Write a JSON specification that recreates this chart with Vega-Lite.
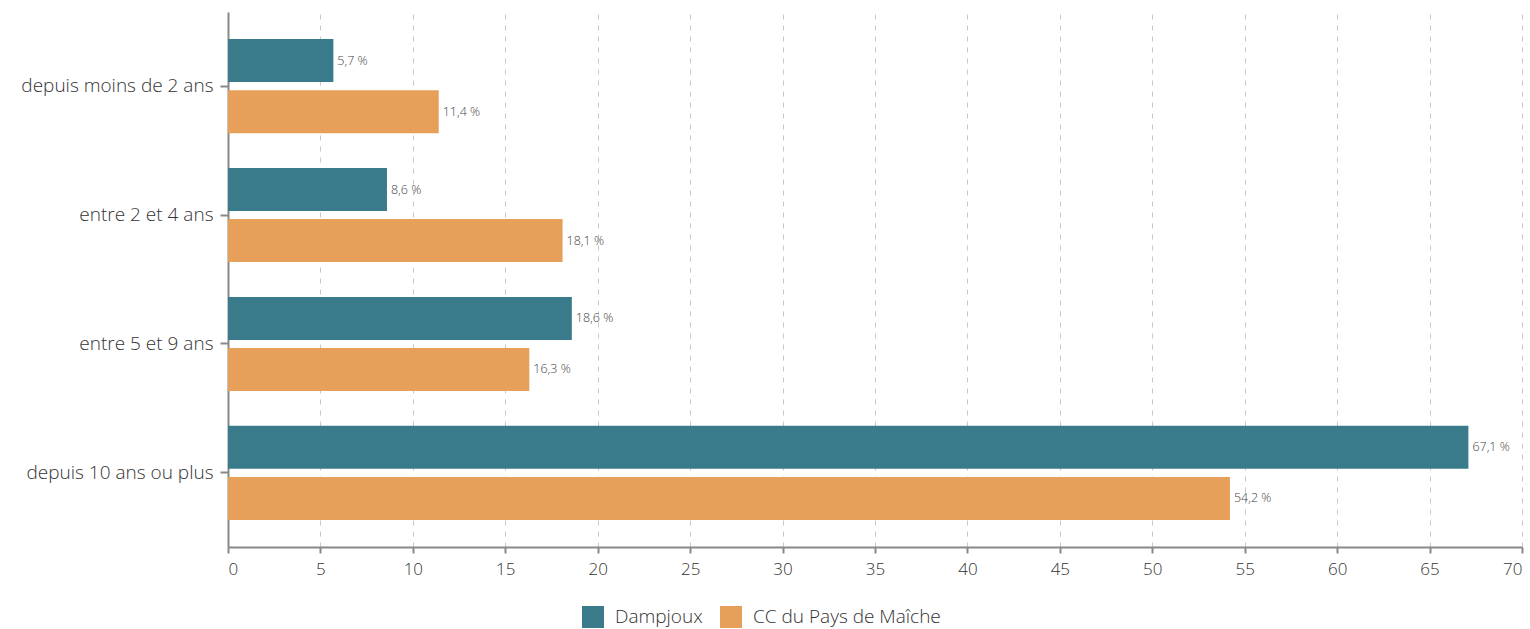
{
  "$schema": "https://vega.github.io/schema/vega-lite/v6.json",
  "width": 1294,
  "height": 535,
  "autosize": {"type": "none"},
  "padding": {"left": 228, "top": 12, "right": 8, "bottom": 82},
  "background": "white",
  "config": {
    "view": {"stroke": null},
    "font": "Open Sans"
  },
  "data": {
    "values": [
      {"duree": "depuis moins de 2 ans", "zone": "Dampjoux", "valeur": 5.7, "label": "5,7 %"},
      {"duree": "depuis moins de 2 ans", "zone": "CC du Pays de Maîche", "valeur": 11.4, "label": "11,4 %"},
      {"duree": "entre 2 et 4 ans", "zone": "Dampjoux", "valeur": 8.6, "label": "8,6 %"},
      {"duree": "entre 2 et 4 ans", "zone": "CC du Pays de Maîche", "valeur": 18.1, "label": "18,1 %"},
      {"duree": "entre 5 et 9 ans", "zone": "Dampjoux", "valeur": 18.6, "label": "18,6 %"},
      {"duree": "entre 5 et 9 ans", "zone": "CC du Pays de Maîche", "valeur": 16.3, "label": "16,3 %"},
      {"duree": "depuis 10 ans ou plus", "zone": "Dampjoux", "valeur": 67.1, "label": "67,1 %"},
      {"duree": "depuis 10 ans ou plus", "zone": "CC du Pays de Maîche", "valeur": 54.2, "label": "54,2 %"}
    ]
  },
  "encoding": {
    "y": {
      "field": "duree",
      "type": "nominal",
      "sort": ["depuis moins de 2 ans", "entre 2 et 4 ans", "entre 5 et 9 ans", "depuis 10 ans ou plus"],
      "scale": {"paddingInner": 0.27, "paddingOuter": 0.21},
      "axis": {
        "title": null,
        "domainColor": "#888888",
        "domainWidth": 2,
        "tickColor": "#888888",
        "tickWidth": 2,
        "tickSize": 8,
        "labelFontSize": 19,
        "labelColor": "#333333",
        "labelPadding": 7,
        "labelFontWeight": 300,
        "labelLimit": 300
      }
    },
    "yOffset": {
      "field": "zone",
      "type": "nominal",
      "sort": ["Dampjoux", "CC du Pays de Maîche"],
      "scale": {"paddingInner": 0.157, "paddingOuter": 0}
    },
    "x": {
      "field": "valeur",
      "type": "quantitative",
      "scale": {"domain": [0, 70], "nice": false},
      "axis": {
        "title": null,
        "values": [0, 5, 10, 15, 20, 25, 30, 35, 40, 45, 50, 55, 60, 65, 70],
        "grid": true,
        "gridColor": "#c8c8c8",
        "gridDash": [5, 6],
        "gridWidth": 1,
        "domainColor": "#888888",
        "domainWidth": 2,
        "tickColor": "#888888",
        "tickWidth": 2,
        "tickSize": 6,
        "labelFontSize": 17,
        "labelColor": "#333333",
        "labelPadding": 8,
        "labelFontWeight": 300
      }
    }
  },
  "layer": [
    {
      "mark": {"type": "bar"},
      "encoding": {
        "color": {
          "field": "zone",
          "type": "nominal",
          "sort": ["Dampjoux", "CC du Pays de Maîche"],
          "scale": {"domain": ["Dampjoux", "CC du Pays de Maîche"], "range": ["#3a7b8b", "#e6a05a"]},
          "legend": {
            "title": null,
            "orient": "none",
            "legendX": 354,
            "legendY": 594,
            "direction": "horizontal",
            "symbolType": "square",
            "symbolSize": 484,
            "symbolStrokeWidth": 0,
            "symbolOpacity": 1,
            "labelFontSize": 19,
            "labelColor": "#333333",
            "labelFontWeight": 300,
            "labelOffset": 11,
            "labelLimit": 400,
            "columnPadding": 17
          }
        }
      }
    },
    {
      "mark": {"type": "text", "align": "left", "baseline": "middle", "dx": 4, "fontSize": 12.5, "color": "#444444", "fontWeight": 300},
      "encoding": {
        "text": {"field": "label"}
      }
    }
  ]
}
